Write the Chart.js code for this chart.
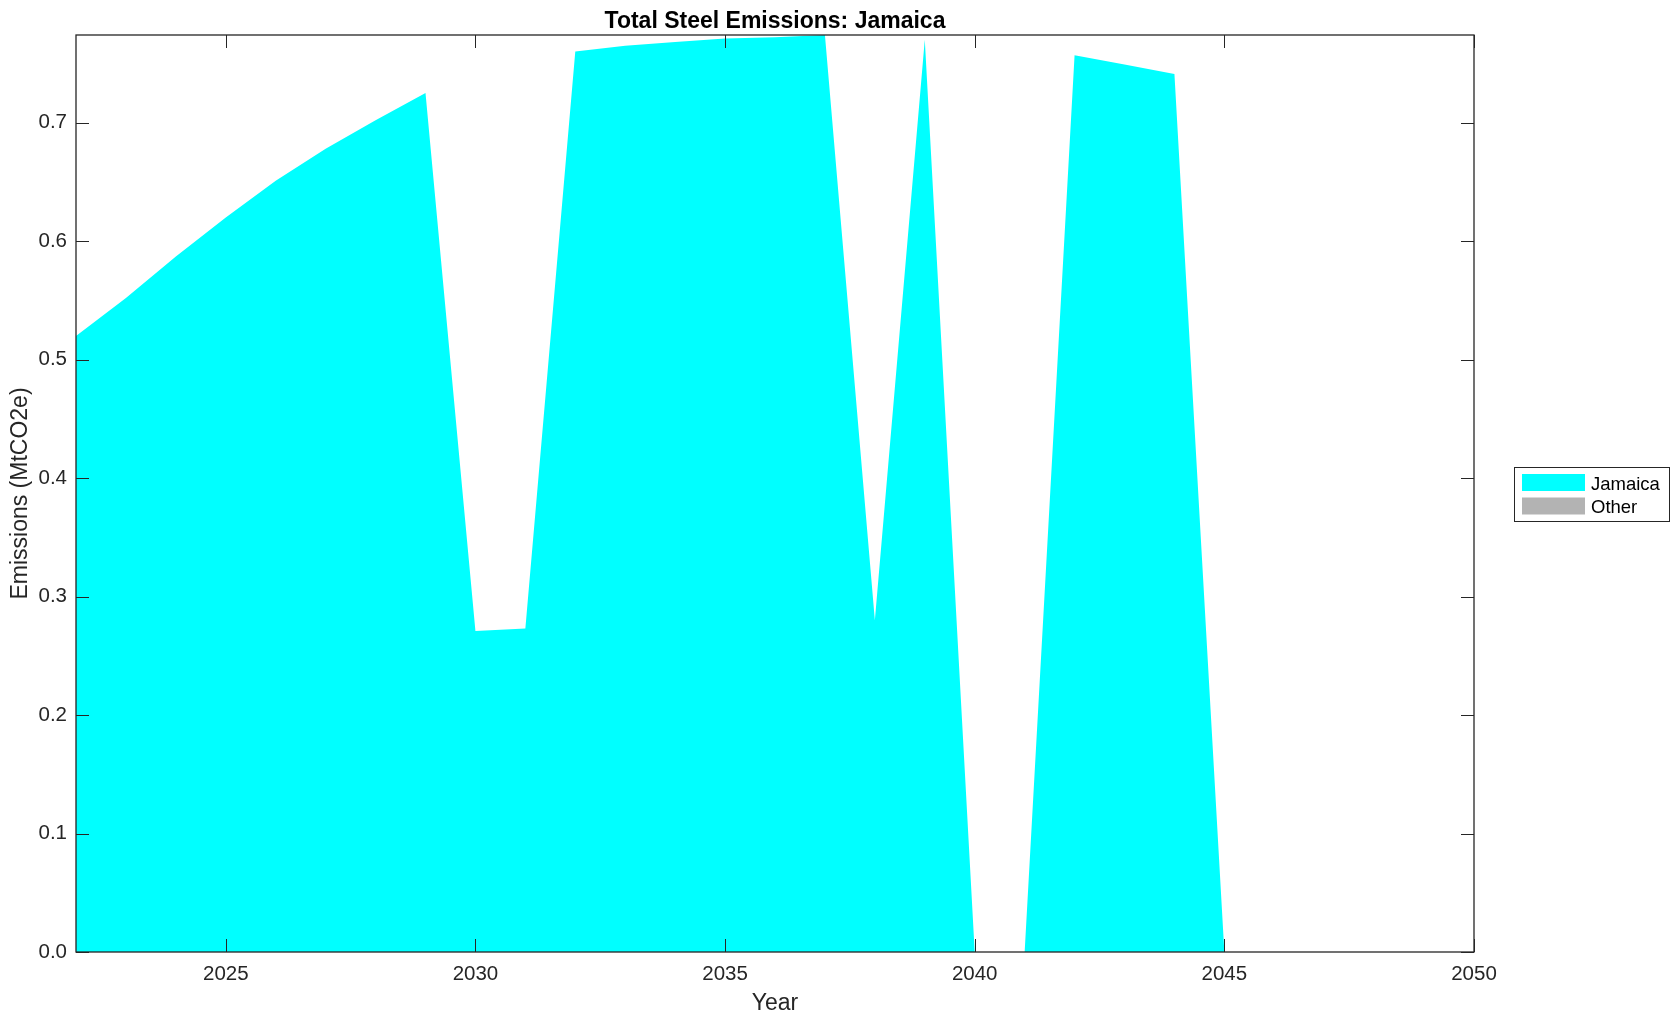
<!DOCTYPE html>
<html>
<head>
<meta charset="utf-8">
<script src="https://cdn.jsdelivr.net/npm/chart.js@4/dist/chart.umd.min.js"></script>
<style>
  body { margin: 0; background: #fff; }
  #wrap { width: 1680px; height: 1021px; }
</style>
</head>
<body>
<div id="wrap"><canvas id="emissionsChart" width="1680" height="1021"></canvas></div>
<script>
////Chart data
const YEARS = [2022, 2023, 2024, 2025, 2026, 2027, 2028, 2029, 2030, 2031, 2032, 2033, 2034, 2035,
               2036, 2037, 2038, 2039, 2040, 2041, 2042, 2043, 2044, 2045, 2046, 2047, 2048, 2049, 2050];
const JAMAICA = [0.520, 0.552, 0.587, 0.620, 0.651, 0.678, 0.702, 0.725, 0.271, 0.273, 0.760, 0.765, 0.768, 0.771,
                 0.772, 0.774, 0.280, 0.770, 0, 0, 0.757, 0.749, 0.741, 0, 0, 0, 0, 0, 0];
const OTHER = [0, 0, 0, 0, 0, 0, 0, 0, 0, 0, 0, 0, 0, 0, 0, 0, 0, 0, 0, 0, 0, 0, 0, 0, 0, 0, 0, 0, 0];
const X_TICKS = [2025, 2030, 2035, 2040, 2045, 2050];
const Y_TICKS = [0, 0.1, 0.2, 0.3, 0.4, 0.5, 0.6, 0.7];

const AXIS_COLOR = "#262626";
const FONT = "'Liberation Sans', Arial, Helvetica, sans-serif";

Chart.defaults.font.family = FONT;
Chart.defaults.color = AXIS_COLOR;

//pair each year with its value
function points(values) {
    let arr = [];
    for (let i = 0; i < YEARS.length; i++) {
        arr.push({ x: YEARS[i], y: values[i] });
    }
    return arr;
}

////Plugin: axes box, inward ticks, title and legend (MATLAB look)
const matlabFrame = {
    id: 'matlabFrame',
    afterDraw(chart) {
        const ctx = chart.ctx;
        const a = chart.chartArea;
        const xs = chart.scales.x;
        const ys = chart.scales.y;
        const tl = 13;
        ctx.save();
        ctx.strokeStyle = AXIS_COLOR;
        ctx.lineWidth = 1.3;
        ctx.strokeRect(a.left, a.top, a.right - a.left, a.bottom - a.top);
        ctx.lineWidth = 1;
        ctx.beginPath();
        for (const v of X_TICKS) {
            const px = Math.round(xs.getPixelForValue(v)) + 0.5;
            ctx.moveTo(px, a.bottom); ctx.lineTo(px, a.bottom - tl);
            ctx.moveTo(px, a.top); ctx.lineTo(px, a.top + tl);
        }
        for (const v of Y_TICKS) {
            const py = Math.round(ys.getPixelForValue(v)) + 0.5;
            ctx.moveTo(a.left, py); ctx.lineTo(a.left + tl, py);
            ctx.moveTo(a.right, py); ctx.lineTo(a.right - tl, py);
        }
        ctx.stroke();

        //title centred on the axes
        ctx.fillStyle = "#000";
        ctx.font = "bold 23px " + FONT;
        ctx.textAlign = "center";
        ctx.textBaseline = "alphabetic";
        ctx.fillText("Total Steel Emissions: Jamaica", (a.left + a.right) / 2, 28);

        //legend box
        const lx = 1514, ly = 467, lw = 155, lh = 54;
        ctx.fillStyle = "#fff";
        ctx.fillRect(lx, ly, lw, lh);
        ctx.strokeStyle = AXIS_COLOR;
        ctx.lineWidth = 1;
        ctx.strokeRect(lx + 0.5, ly + 0.5, lw, lh);
        ctx.font = "18.5px " + FONT;
        ctx.textAlign = "left";
        chart.data.datasets.forEach((ds, i) => {
            const top = ly + 7 + i * 23.5;
            ctx.fillStyle = ds.backgroundColor;
            ctx.fillRect(lx + 8, top, 63, 17);
            ctx.fillStyle = "#000";
            ctx.fillText(ds.label, lx + 77, top + 15.5);
        });
        ctx.restore();
    }
};

var ctx = document.getElementById("emissionsChart").getContext('2d');
var emissionsChart = new Chart(ctx, {
    type: 'line',
    data: {
        datasets: [{
            label: 'Jamaica',
            data: points(JAMAICA),
            backgroundColor: '#00ffff',
            borderWidth: 0,
            pointRadius: 0,
            tension: 0,
            fill: 'origin'
        }, {
            label: 'Other',
            data: points(OTHER),
            backgroundColor: '#b3b3b3',
            borderWidth: 0,
            pointRadius: 0,
            tension: 0,
            fill: '-1'
        }]
    },
    options: {
        responsive: false,
        animation: false,
        layout: { padding: { top: 35, right: 206, left: 0, bottom: 0 } },
        plugins: {
            legend: { display: false },
            tooltip: { enabled: false }
        },
        scales: {
            x: {
                type: 'linear',
                min: 2022,
                max: 2050,
                grid: { display: false, drawTicks: false },
                border: { display: false },
                afterBuildTicks: (scale) => { scale.ticks = X_TICKS.map(v => ({ value: v })); },
                afterFit: (scale) => { scale.height = 69; },
                ticks: {
                    font: { size: 20.5 },
                    padding: 10,
                    maxRotation: 0,
                    callback: (v) => String(v)
                },
                title: {
                    display: true,
                    text: 'Year',
                    font: { size: 23 },
                    padding: { top: 0, bottom: 3.5 }
                }
            },
            y: {
                min: 0,
                max: 0.774,
                stacked: true,
                grid: { display: false, drawTicks: false },
                border: { display: false },
                afterBuildTicks: (scale) => { scale.ticks = Y_TICKS.map(v => ({ value: v })); },
                afterFit: (scale) => { scale.width = 76; },
                ticks: {
                    font: { size: 20.5 },
                    padding: 9,
                    callback: (v) => Number(v).toFixed(1)
                },
                title: {
                    display: true,
                    text: 'Emissions (MtCO2e)',
                    font: { size: 23 },
                    padding: { top: 7, bottom: 0 }
                }
            }
        }
    },
    plugins: [matlabFrame]
});
</script>
</body>
</html>
